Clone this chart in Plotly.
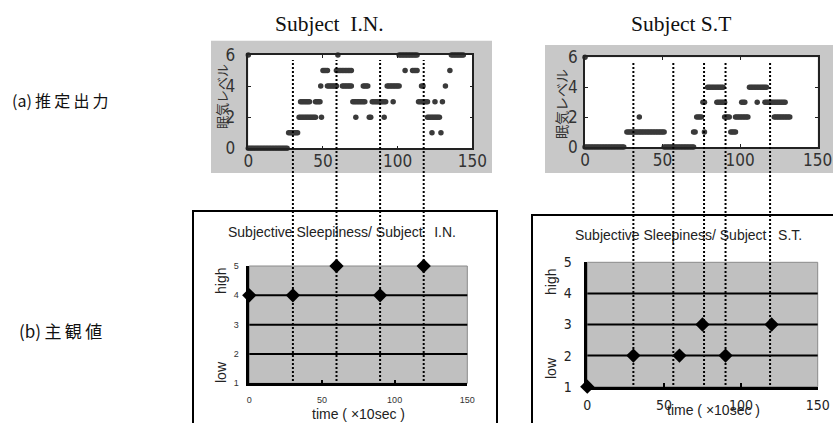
import numpy as np
import plotly.graph_objects as go

W, H = 833, 423

# ---------------- data ----------------
# (a) estimated sleepiness level, one sample per time step (x10 sec),
# stored as runs: level, first sample, last sample
in_run_level = [6, 6, 6, 6,
                5, 5, 5, 5, 5,
                4, 4, 4, 4, 4, 4, 4,
                3, 3, 3, 3, 3, 3, 3, 3,
                2, 2, 2, 2, 2, 2,
                1, 1, 1,
                0]
in_run_start = [0, 60, 101, 136,
                50, 59, 105, 110, 135,
                48.5, 53, 63, 77, 93, 116, 132,
                35, 45, 70, 83, 97, 114, 125, 130,
                34, 49, 72, 81, 91, 120,
                27, 123, 129,
                0]
in_run_end = [0, 60, 113, 144,
              53, 69, 105, 113, 135,
              48.5, 59, 69, 80, 101, 117, 132,
              41, 48, 78, 92, 97, 120, 125, 130,
              45, 49, 72, 82, 91, 128,
              33, 123, 129,
              26]

st_run_level = [6,
                0, 0,
                1, 1, 1, 1,
                2, 2, 2, 2, 2,
                3, 3, 3, 3, 3,
                4, 4]
st_run_start = [0,
                0, 51,
                27, 70, 77, 94,
                35, 72, 90, 97, 122,
                76, 85, 101, 111, 116,
                79, 106]
st_run_end = [0,
              25, 70,
              51, 71, 77, 97,
              35, 75, 93, 105, 132,
              77, 90, 103, 111, 129,
              89, 117]

# (b) subjective sleepiness
in_subj_t = [0, 30, 60, 90, 120]
in_subj_v = [4, 4, 5, 4, 5]
st_subj_t = [0, 30, 60, 75, 90, 120]
st_subj_v = [1, 2, 2, 3, 2, 3]

# time marks connecting (a) and (b)
in_marks = [30, 60, 90, 120]
st_marks = [30, 56, 76, 90, 119]

top_yticks = [0, 2, 4, 6]
time_ticks = [0, 50, 100, 150]
subj_ticks = [1, 2, 3, 4, 5]
subj_grid = [2, 3, 4]


def expand(levels, starts, ends):
    t, v = [], []
    for lv, a, b in zip(levels, starts, ends):
        for x in np.arange(a, b + 0.5, 1.0):
            t.append(float(x))
            v.append(lv)
    return t, v


def fx(px):
    return px / W


def fy(py):
    return 1 - py / H


in_t, in_v = expand(in_run_level, in_run_start, in_run_end)
st_t, st_v = expand(st_run_level, st_run_start, st_run_end)

fig = go.Figure()
dot = dict(color="#3a3a3a", size=5.5)
fig.add_trace(go.Scatter(x=in_t, y=in_v, mode="markers", marker=dot,
                         xaxis="x", yaxis="y", cliponaxis=False, hoverinfo="skip"))
fig.add_trace(go.Scatter(x=st_t, y=st_v, mode="markers", marker=dot,
                         xaxis="x2", yaxis="y2", cliponaxis=False, hoverinfo="skip"))
dia = dict(symbol="diamond", color="black", size=11)
fig.add_trace(go.Scatter(x=in_subj_t, y=in_subj_v, mode="markers", marker=dia,
                         xaxis="x3", yaxis="y3", cliponaxis=False))
fig.add_trace(go.Scatter(x=st_subj_t, y=st_subj_v, mode="markers", marker=dia,
                         xaxis="x4", yaxis="y4", cliponaxis=False))

narrow = "Liberation Sans Narrow, DejaVu Sans Condensed, Arial Narrow, sans-serif"
top_font = dict(family=narrow, size=17, color="#333")

top_x = dict(range=[0, 150], tickvals=time_ticks, ticks="inside", ticklen=3,
             tickcolor="#222", showline=True, mirror="ticks", linecolor="#222",
             linewidth=1.5, showgrid=False, zeroline=False, tickfont=top_font,
             automargin=False)
top_y = dict(range=[0, 6], tickvals=top_yticks, ticks="inside", ticklen=3,
             tickcolor="#222", showline=True, mirror="ticks", linecolor="#222",
             linewidth=1.5, showgrid=False, zeroline=False, tickfont=top_font,
             automargin=False)

bot_x = dict(range=[0, 150], tickvals=time_ticks, ticks="inside", ticklen=4,
             tickwidth=2, tickcolor="black", showline=True, linecolor="black",
             linewidth=2.5, showgrid=False, zeroline=False, automargin=False)
bot_y = dict(range=[1, 5], tickvals=subj_ticks, ticks="", showline=True,
             linecolor="black", linewidth=2.5, showgrid=False, zeroline=False,
             automargin=False)

sans = "Liberation Sans, Arial, sans-serif"
fig.update_layout(
    template="none",
    width=W, height=H, margin=dict(l=0, r=0, t=0, b=0, pad=0),
    paper_bgcolor="white", plot_bgcolor="rgba(0,0,0,0)", showlegend=False,
    xaxis=dict(top_x, domain=[fx(248.3), fx(472.3)], anchor="y", ticklabelstandoff=-3),
    yaxis=dict(top_y, domain=[fy(148.3), fy(55)], anchor="x", ticklabelstandoff=8),
    xaxis2=dict(top_x, domain=[fx(585), fx(817.7)], anchor="y2", ticklabelstandoff=-3),
    yaxis2=dict(top_y, domain=[fy(147), fy(57.3)], anchor="x2", ticklabelstandoff=2),
    xaxis3=dict(bot_x, domain=[fx(249.3), fx(467.3)], anchor="y3",
                tickfont=dict(family=sans, size=9, color="#333"),
                ticklabelstandoff=6),
    yaxis3=dict(bot_y, domain=[fy(383.3), fy(266)], anchor="x3",
                tickfont=dict(family=sans, size=9, color="#333"),
                ticklabelstandoff=6),
    xaxis4=dict(bot_x, domain=[fx(587.3), fx(817.7)], anchor="y4",
                tickfont=dict(family=narrow, size=14, color="#222"),
                ticklabelstandoff=4),
    yaxis4=dict(bot_y, domain=[fy(386.7), fy(262.3)], anchor="x4",
                tickfont=dict(family=narrow, size=14, color="#222"),
                ticklabelstandoff=10),
)

shapes = []
# gray panels around (a)
shapes.append(dict(type="rect", xref="paper", yref="paper", layer="below",
                   x0=fx(211), x1=fx(492), y0=fy(173), y1=fy(40.7),
                   fillcolor="#c8c8c8", line=dict(width=0)))
shapes.append(dict(type="rect", xref="paper", yref="paper", layer="below",
                   x0=fx(545), x1=fx(840), y0=fy(173), y1=fy(45),
                   fillcolor="#c8c8c8", line=dict(width=0)))
# frames around (b)
shapes.append(dict(type="rect", xref="paper", yref="paper", layer="below",
                   x0=fx(193), x1=fx(497), y0=fy(430), y1=fy(211),
                   fillcolor="white", line=dict(color="black", width=2)))
shapes.append(dict(type="rect", xref="paper", yref="paper", layer="below",
                   x0=fx(532), x1=fx(840), y0=fy(430), y1=fy(215),
                   fillcolor="white", line=dict(color="black", width=2)))
# plot areas
for xa, ya in (("x", "y"), ("x2", "y2")):
    shapes.append(dict(type="rect", xref=xa + " domain", yref=ya + " domain", layer="below",
                       x0=0, x1=1, y0=0, y1=1, fillcolor="white", line=dict(width=0)))
for xa, ya in (("x3", "y3"), ("x4", "y4")):
    shapes.append(dict(type="rect", xref=xa + " domain", yref=ya + " domain", layer="below",
                       x0=0, x1=1, y0=0, y1=1, fillcolor="#c0c0c0",
                       line=dict(color="#8a8a8a", width=1)))
    for g in subj_grid:
        shapes.append(dict(type="line", xref=xa + " domain", yref=ya, layer="below",
                           x0=0, x1=1, y0=g, y1=g, line=dict(color="black", width=2)))
# dotted time marks
for m in in_marks:
    shapes.append(dict(type="line", xref="x3", yref="paper", layer="above",
                       x0=m, x1=m, y0=fy(381), y1=fy(60),
                       line=dict(color="black", width=2, dash="2px,2px")))
for m in st_marks:
    shapes.append(dict(type="line", xref="x4", yref="paper", layer="above",
                       x0=m, x1=m, y0=fy(385), y1=fy(62),
                       line=dict(color="black", width=2, dash="2px,2px")))
fig.update_layout(shapes=shapes)


def note(text, x, y, font, angle=0, xanchor="center"):
    return dict(text=text, x=fx(x), y=fy(y), xref="paper", yref="paper",
                showarrow=False, font=font, textangle=angle,
                xanchor=xanchor, yanchor="middle")


ann = []
serif = dict(family="Liberation Serif, Times New Roman, serif", size=21.5, color="#111")
ann.append(note("Subject  I.N.", 329, 24, serif))
ann.append(note("Subject S.T", 681, 24, serif))
cjk = dict(family="Noto Sans CJK JP, sans-serif", size=16, color="#111")
ann.append(note("(a)\u2009推\u2009定\u2009出\u2009力", 10, 100, cjk, xanchor="left"))
ann.append(note("(b)\u2009主\u2009観\u2009値", 17, 330, dict(cjk, size=17), xanchor="left"))
lab_font = dict(family="Noto Sans CJK JP, sans-serif", size=13, color="#333")
ann.append(note("眠気レベル", 221, 97, lab_font, angle=-90))
ann.append(note("眠気レベル", 561, 104, dict(lab_font, size=14), angle=-90))
ttl = dict(family=sans, size=14, color="#222")
ann.append(note("Subjective Sleepiiness/ Subject   I.N.", 342, 232, ttl))
ann.append(note("Subjective Sleepiness/ Subject   S.T.", 688, 235, ttl))
ann.append(note("time ( \u00d710sec )", 358, 414, ttl))
ann.append(note("time ( \u00d710sec )", 713, 410, ttl))
for x, yh, yl in ((221, 281, 372), (551, 282, 368)):
    ann.append(note("high", x, yh, ttl, angle=-90))
    ann.append(note("low", x, yl, ttl, angle=-90))
fig.update_layout(annotations=ann)

fig.write_html("out.html")
